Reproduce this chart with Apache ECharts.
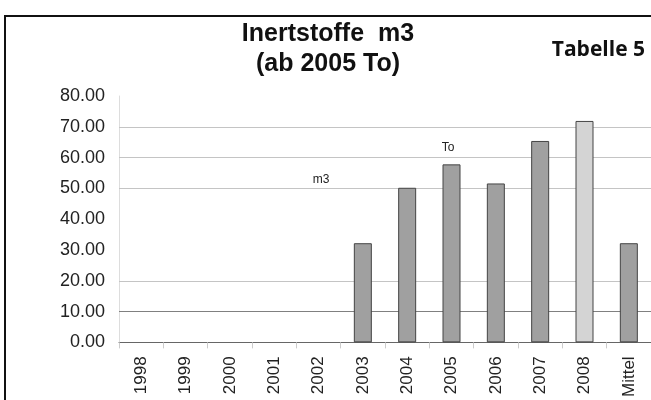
<!DOCTYPE html>
<html>
<head>
<meta charset="utf-8">
<script src="https://cdn.jsdelivr.net/npm/echarts@6/dist/echarts.min.js"></script>
<style>
  html, body { margin: 0; padding: 0; background: #fff; }
  #main { width: 651px; height: 400px; }
</style>
</head>
<body>
<div id="main"></div>
<script>
// Daten aus der Tabelle
var years = ['1998', '1999', '2000', '2001', '2002', '2003', '2004', '2005', '2006', '2007', '2008', 'Mittel'];
var values = [null, null, null, null, null, 32.2, 50.2, 57.8, 51.6, 65.4, 71.9, 32.2];
var yTicks = [0, 10, 20, 30, 40, 50, 60, 70, 80];
// im Original sichtbare Gitterlinien
var gridValues = [10, 20, 50, 60, 70];

var chart = echarts.init(document.getElementById('main'));

var option = {
    backgroundColor: '#fff',
    animation: false,
    grid: {
        left: 119,
        right: -2,
        top: 96,
        bottom: 57
    },
    xAxis: {
        type: 'category',
        data: years,
        axisLine: {lineStyle: {color: '#666', width: 1}},
        axisTick: {show: true, length: 6, lineStyle: {color: '#ccc'}},
        axisLabel: {
            rotate: 90,
            margin: 14,
            color: '#222',
            fontSize: 17,
            fontFamily: 'Liberation Sans, Arial, sans-serif'
        }
    },
    yAxis: {
        type: 'value',
        min: yTicks[0],
        max: yTicks[yTicks.length - 1],
        interval: 10,
        axisLine: {show: true, lineStyle: {color: '#ddd'}},
        axisTick: {show: false},
        axisLabel: {
            margin: 14,
            color: '#222',
            fontSize: 18,
            fontFamily: 'Liberation Sans, Arial, sans-serif',
            formatter: function (v) { return v.toFixed(2); }
        },
        splitLine: {show: false}
    },
    series: [{
        type: 'bar',
        data: values,
        barWidth: 18,
        z: 3,
        itemStyle: {
            color: function (p) {
                return p.name === '2008' ? '#d4d4d4' : '#a0a0a0';
            },
            borderColor: '#444',
            borderWidth: 1
        },
        markLine: {
            silent: true,
            symbol: 'none',
            z: 1,
            label: {show: false},
            data: gridValues.map(function (v) {
                return {yAxis: v, lineStyle: {color: v === 10 ? '#808080' : '#c4c4c4', type: 'solid', width: 1}};
            })
        }
    }],
    graphic: [
        // Rahmen
        {
            type: 'rect',
            shape: {x: 5, y: 16, width: 660, height: 400},
            style: {fill: 'none', stroke: '#111', lineWidth: 2},
            z: 100
        },
        {
            type: 'text',
            x: 328, y: 34,
            style: {
                text: 'Inertstoffe  m3',
                font: 'bold 25px "Liberation Sans", Arial, sans-serif',
                fill: '#111',
                align: 'center',
                verticalAlign: 'middle'
            }
        },
        {
            type: 'text',
            x: 328, y: 64,
            style: {
                text: '(ab 2005 To)',
                font: 'bold 25px "Liberation Sans", Arial, sans-serif',
                fill: '#111',
                align: 'center',
                verticalAlign: 'middle'
            }
        },
        {
            type: 'text',
            x: 645, y: 50,
            style: {
                text: 'Tabelle 5',
                font: 'bold 21px "Open Sans", sans-serif',
                fill: '#111',
                align: 'right',
                verticalAlign: 'middle'
            }
        },
        {
            type: 'text',
            x: 321, y: 180,
            style: {
                text: 'm3',
                font: '12px "Liberation Sans", Arial, sans-serif',
                fill: '#222',
                align: 'center',
                verticalAlign: 'middle'
            }
        },
        {
            type: 'text',
            x: 448, y: 148,
            style: {
                text: 'To',
                font: '12px "Liberation Sans", Arial, sans-serif',
                fill: '#222',
                align: 'center',
                verticalAlign: 'middle'
            }
        }
    ]
};

chart.setOption(option);
</script>
</body>
</html>
